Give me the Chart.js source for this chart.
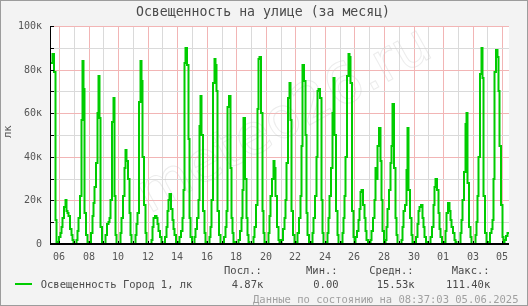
<!DOCTYPE html>
<html><head><meta charset="utf-8">
<script src="https://cdn.jsdelivr.net/npm/chart.js@4.4.1/dist/chart.umd.min.js"></script>
<style>html,body{margin:0;padding:0;background:#f3f3f3}canvas{display:block}</style>
</head><body>
<canvas id="c" width="528" height="306"></canvas>
<script>
// ---- texts ----
const chartTitle = "Освещенность на улице (за месяц)";
const yAxisTitle = "лк";
const legendName = "Освещенность Город 1, лк";
const statHeaders = ["Посл.:", "Мин.:", "Средн.:", "Макс.:"];
const statValues = ["4.87к", "0.00", "15.53к", "111.40к"];
const footerText = "Данные по состоянию на 08:37:03 05.06.2025";
const watermarkText = "meteo26.ru";

// ---- x axis: hours since left edge of the plot; one grid line per day ----
const rangeHours = 744;          // 31 days
const firstDayLineHour = 13;     // position of the "06" day line
const dayLabels = ["06","07","08","09","10","11","12","13","14","15","16","17","18","19","20",
  "21","22","23","24","25","26","27","28","29","30","31","01","02","03","04","05"];

// ---- y axis (thousands of lux) ----
const yTicksK = [0,10,20,30,40,50,60,70,80,90,100];

// ---- series: lux (thousands), one sample every 2 hours starting at hour 0 ----
const sampleStepHours = 2;
const luxK = [
  83, 83, 87, 79, 11, 1, 0, 3,                 // 05 (from plot start)
  5, 8, 12, 17, 20, 15, 14, 13, 7, 4, 2, 0,    // 06
  0, 2, 6, 12, 22, 57, 84, 71, 14, 4, 0, 0,    // 07
  1, 5, 13, 19, 26, 37, 60, 77, 58, 8, 0, 0,   // 08
  0, 4, 9, 10, 12, 20, 56, 67, 22, 4, 0, 0,    // 09
  0, 5, 12, 22, 35, 43, 38, 30, 14, 4, 0, 0,   // 10
  0, 4, 9, 14, 65, 84, 75, 40, 18, 5, 0, 0,    // 11
  0, 0, 2, 8, 12, 13, 12, 9, 6, 3, 1, 0,       // 12
  0, 3, 8, 15, 20, 23, 16, 11, 7, 4, 1, 0,     // 13
  0, 3, 6, 12, 25, 83, 90, 82, 48, 12, 3, 0,   // 14
  0, 3, 7, 12, 20, 54, 68, 50, 15, 5, 1, 0,    // 15
  0, 3, 8, 20, 74, 85, 82, 70, 15, 4, 0, 0,    // 16
  0, 3, 8, 15, 63, 68, 35, 12, 5, 1, 0, 0,     // 17
  0, 2, 6, 12, 25, 58, 30, 12, 4, 1, 0, 0,     // 18
  0, 3, 8, 18, 62, 85, 86, 60, 15, 5, 1, 0,    // 19
  0, 5, 13, 22, 30, 38, 35, 22, 8, 2, 0, 0,    // 20
  2, 7, 12, 20, 37, 67, 74, 57, 15, 4, 0, 0,   // 21
  1, 5, 12, 22, 45, 82, 75, 50, 14, 4, 0, 0,   // 22
  1, 5, 12, 22, 40, 70, 71, 67, 20, 5, 0, 0,   // 23
  1, 5, 12, 22, 35, 60, 76, 50, 15, 4, 0, 0,   // 24
  1, 5, 12, 22, 40, 77, 87, 86, 74, 15, 3, 0,  // 25
  3, 6, 11, 16, 24, 25, 18, 12, 6, 2, 0, 0,    // 26
  2, 6, 12, 20, 35, 30, 45, 53, 38, 20, 6, 0,  // 27
  2, 8, 16, 25, 37, 45, 64, 35, 12, 4, 0, 0,   // 28
  0, 2, 8, 15, 18, 34, 53, 25, 12, 4, 1, 0,    // 29
  0, 3, 9, 15, 17, 18, 12, 8, 3, 1, 0, 0,      // 30
  0, 3, 8, 18, 26, 30, 25, 14, 7, 3, 0, 0,     // 31
  1, 6, 14, 19, 15, 11, 8, 5, 2, 1, 0, 0,      // 01
  0, 5, 11, 20, 33, 55, 60, 28, 8, 3, 0, 0,    // 02
  0, 4, 10, 22, 40, 78, 90, 76, 22, 5, 1, 0,   // 03
  1, 5, 7, 11, 30, 79, 89, 86, 70, 45, 18, 3,  // 04
  0, 2, 3.7, 4.87, 4.87                        // 05 (to plot end)
];

// ---- styles ----
const GREEN = '#00cc00';
const PINK = '#f2b5b5';
const GRAY = '#dadada';
const MONO = "'DejaVu Sans Mono', 'Liberation Mono', monospace";

const points = luxK.map((v, i) => ({x: i * sampleStepHours, y: v}));

const decor = {
  id: 'decor',
  beforeDraw(chart) {
    const {ctx, chartArea: a} = chart;
    ctx.save();
    ctx.fillStyle = '#f3f3f3';
    ctx.fillRect(0, 0, chart.width, chart.height);
    ctx.fillStyle = '#ffffff';
    ctx.fillRect(a.left, a.top, a.right - a.left, a.bottom - a.top);
    ctx.strokeStyle = '#9c9c9c';
    ctx.lineWidth = 1;
    ctx.strokeRect(0.5, 0.5, chart.width - 1, chart.height - 1);
    ctx.restore();
  },
  beforeDatasetsDraw(chart) {
    const {ctx, chartArea: a} = chart;
    ctx.save();
    ctx.beginPath();
    ctx.rect(a.left, a.top, a.right - a.left, a.bottom - a.top);
    ctx.clip();
    ctx.translate(285, 122);
    ctx.rotate(-29 * Math.PI / 180);
    ctx.font = "56px 'DejaVu Sans'";
    ctx.textAlign = 'center';
    ctx.textBaseline = 'middle';
    ctx.strokeStyle = 'rgba(200,200,200,0.35)';
    ctx.lineWidth = 1;
    ctx.strokeText(watermarkText, 0, 0);
    ctx.restore();
  },
  afterDatasetsDraw(chart) {
    const {ctx, chartArea: a, scales} = chart;
    ctx.save();
    ctx.fillStyle = '#000';
    ctx.fillRect(a.left - 1, Math.round(a.bottom) - 1, a.right - a.left + 1, 2);
    ctx.fillRect(a.left - 1, a.top, 1, a.bottom - a.top);
    yTicksK.forEach(v => {
      const y = Math.round(scales.y.getPixelForValue(v));
      ctx.fillRect(a.left, y, 3, 1);
    });
    dayLabels.forEach((_, k) => {
      const x = Math.round(scales.x.getPixelForValue(firstDayLineHour + 24 * k));
      ctx.fillRect(x, a.bottom - 3, 1, 2);
    });
    ctx.restore();
  },
  afterDraw(chart) {
    const {ctx} = chart;
    ctx.save();
    ctx.fillStyle = '#4a4a4a';
    ctx.font = `13.2px ${MONO}`;
    ctx.textAlign = 'center';
    ctx.textBaseline = 'alphabetic';
    ctx.fillText(chartTitle, 263, 16);
    ctx.save();
    ctx.translate(10.8, 131.7);
    ctx.rotate(-Math.PI / 2);
    ctx.font = `10.5px ${MONO}`;
    ctx.fillStyle = '#555';
    ctx.fillText(yAxisTitle, 0, 0);
    ctx.restore();
    ctx.fillStyle = GREEN;
    ctx.fillRect(15, 283, 17, 2);
    ctx.font = `10.5px ${MONO}`;
    ctx.fillStyle = '#4a4a4a';
    ctx.textAlign = 'left';
    ctx.fillText(legendName, 40.7, 287.5);
    const headX = [224, 306, 369.3, 451.7];
    const valX = [231.7, 313.3, 376.7, 446];
    statHeaders.forEach((t, i) => ctx.fillText(t, headX[i], 273.5));
    statValues.forEach((t, i) => ctx.fillText(t, valX[i], 287.5));
    ctx.fillStyle = '#a0a0a0';
    ctx.textAlign = 'right';
    ctx.fillText(footerText, 518.5, 302.5);
    ctx.restore();
  }
};

new Chart(document.getElementById('c'), {
  type: 'line',
  data: {
    datasets: [{
      data: points,
      borderColor: GREEN,
      borderWidth: 2,
      pointRadius: 0,
      stepped: 'middle',
      tension: 0,
      fill: false
    }]
  },
  options: {
    responsive: false,
    animation: false,
    devicePixelRatio: 1,
    layout: {padding: {left: 0, right: 19, top: 26, bottom: 42}},
    plugins: {legend: {display: false}, title: {display: false}, tooltip: {enabled: false}},
    scales: {
      x: {
        type: 'linear',
        min: 0,
        max: rangeHours,
        alignToPixels: true,
        afterBuildTicks: s => { s.ticks = dayLabels.map((_, k) => ({value: firstDayLineHour + 24 * k})); },
        afterFit: s => { s.height = 20; },
        border: {display: false},
        grid: {
          drawTicks: false,
          lineWidth: 1,
          color: c => (c.index % 2 === 0 ? PINK : GRAY)
        },
        ticks: {
          autoSkip: false,
          maxRotation: 0,
          padding: 7,
          color: '#555',
          font: {family: MONO, size: 10},
          callback: (v, i) => (i % 2 === 0 ? dayLabels[i] : '')
        }
      },
      y: {
        type: 'linear',
        min: 0,
        max: 100,
        alignToPixels: true,
        afterBuildTicks: s => { s.ticks = yTicksK.map(v => ({value: v})); },
        afterFit: s => { s.width = 51; },
        border: {display: false},
        grid: {
          drawTicks: false,
          lineWidth: 1,
          color: c => (c.tick && c.tick.value % 20 === 0 ? PINK : GRAY)
        },
        ticks: {
          padding: 9,
          color: '#555',
          font: {family: MONO, size: 10},
          callback: v => (v % 20 === 0 ? (v === 0 ? '0' : v + 'к') : '')
        }
      }
    }
  },
  plugins: [decor]
});
</script>
</body></html>
